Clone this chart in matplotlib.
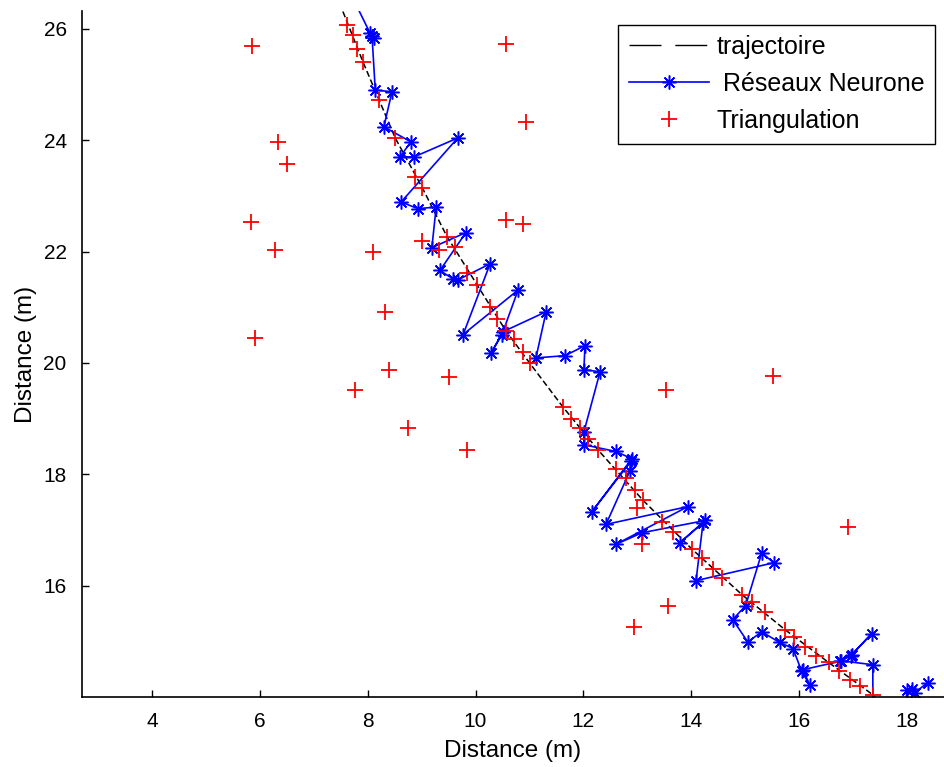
import matplotlib
matplotlib.use('Agg')
import matplotlib.pyplot as plt
from matplotlib.lines import Line2D

# trajectoire reelle
traj_x = [7.54, 7.91, 8.51, 9.01, 9.47, 10.03, 10.56, 11.01, 11.62, 12.27,
          13.10, 14.01, 14.94, 15.74, 16.55, 17.37, 17.46]
traj_y = [26.31, 25.41, 24.04, 23.15, 22.27, 21.40, 20.58, 19.99, 19.21, 18.44,
          17.54, 16.66, 15.84, 15.21, 14.62, 14.04, 13.95]

# estimation reseaux de neurones
rn_x = [7.76, 8.04, 8.12, 8.08, 8.14, 8.45, 8.30, 8.80, 8.60, 8.86,
        9.67, 8.62, 8.93, 9.27, 9.19, 9.82, 9.34, 9.58, 9.67, 10.27,
        9.77, 10.79, 10.49, 10.29, 10.51, 11.31, 11.12, 11.66, 12.03, 12.01,
        12.31, 12.01, 12.01, 12.60, 12.90, 12.16, 12.88, 12.86, 12.42, 13.94,
        12.60, 13.09, 14.26, 13.79, 14.22, 14.09, 15.53, 15.31, 15.01, 14.77,
        15.05, 15.31, 15.64, 15.89, 16.05, 16.20, 16.07, 16.76, 16.98, 17.35,
        16.96, 16.78, 17.37, 17.37, 17.96, 18.00, 18.09, 18.15, 18.39]
rn_y = [26.48, 25.93, 25.84, 25.87, 24.90, 24.87, 24.24, 23.97, 23.70, 23.70,
        24.04, 22.89, 22.77, 22.80, 22.07, 22.34, 21.66, 21.51, 21.49, 21.78,
        20.51, 21.31, 20.51, 20.18, 20.56, 20.92, 20.09, 20.13, 20.31, 19.88,
        19.84, 18.76, 18.53, 18.41, 18.28, 17.33, 18.23, 18.05, 17.10, 17.42,
        16.74, 16.95, 17.17, 16.77, 17.13, 16.09, 16.41, 16.59, 15.64, 15.39,
        14.99, 15.17, 14.98, 14.87, 14.46, 14.22, 14.49, 14.64, 14.76, 15.14,
        14.74, 14.65, 14.58, 13.41, 13.41, 14.12, 14.15, 14.08, 14.26]

# triangulation
tri_x = [7.62, 7.73, 7.80, 7.91, 8.21, 8.51, 8.88, 9.01, 9.01, 9.47,
         9.32, 9.62, 9.84, 10.03, 10.27, 10.40, 10.56, 10.71, 10.88, 11.01,
         11.62, 11.77, 11.94, 12.08, 12.27, 12.60, 12.79, 12.96, 13.10, 12.99,
         13.46, 13.66, 13.09, 14.01, 14.20, 14.40, 14.57, 14.94, 15.13, 15.37,
         15.74, 15.90, 16.11, 16.31, 16.55, 16.74, 16.94, 17.13, 17.37,
         5.85, 6.34, 6.50, 5.84, 6.28, 5.91, 7.76, 8.10, 8.32, 8.39,
         8.75, 9.51, 9.84, 10.56, 10.93, 10.56, 10.88, 13.53, 15.52, 13.57,
         12.94, 16.91]
tri_y = [26.07, 25.89, 25.64, 25.41, 24.73, 24.04, 23.34, 23.15, 22.19, 22.27,
         22.03, 22.09, 21.62, 21.40, 21.01, 20.78, 20.58, 20.43, 20.20, 20.00,
         19.21, 19.00, 18.84, 18.64, 18.44, 18.10, 17.94, 17.72, 17.54, 17.40,
         17.15, 16.97, 16.74, 16.66, 16.50, 16.29, 16.14, 15.84, 15.70, 15.52,
         15.21, 15.08, 14.90, 14.74, 14.62, 14.47, 14.31, 14.19, 14.04,
         25.69, 23.97, 23.58, 22.53, 22.03, 20.45, 19.52, 22.00, 20.92, 19.88,
         18.84, 19.75, 18.44, 25.73, 24.33, 22.57, 22.50, 19.52, 19.77, 15.64,
         15.26, 17.06]

x_ticks = [4, 6, 8, 10, 12, 14, 16, 18]
y_ticks = [16, 18, 20, 22, 24, 26]

plt.rcParams['font.family'] = ['Liberation Sans', 'DejaVu Sans']

fig = plt.figure(figsize=(9.44, 7.67), dpi=100)
ax = fig.add_axes([82 / 944, 70 / 767, 862 / 944, 686 / 767])

ax.plot(traj_x, traj_y, color='black', lw=1.1, dashes=(4, 2))
ax.plot(rn_x, rn_y, color='blue', lw=1.2, marker=(8, 2, 0), ms=10, mew=1.1)
ax.plot(tri_x, tri_y, ls='none', color='red', marker='+', ms=11, mew=1.3)

ax.set_xlim(2.70, 18.69)
ax.set_ylim(14.0, 26.32)
ax.set_xticks(x_ticks)
ax.set_yticks(y_ticks)
ax.tick_params(direction='in', length=5, width=1, labelsize=15, colors='black')
ax.tick_params(axis='x', pad=11)
ax.tick_params(axis='y', pad=11)
for s in ['top', 'right']:
    ax.spines[s].set_visible(False)
for s in ['left', 'bottom']:
    ax.spines[s].set_linewidth(1.2)

ax.set_xlabel('Distance (m)', fontsize=17.5, labelpad=6)
ax.set_ylabel('Distance (m)', fontsize=17.5, labelpad=5)

handles = [
    Line2D([], [], color='black', lw=1.0, dashes=(23, 10)),
    Line2D([], [], color='blue', lw=1.2, marker=(8, 2, 0), ms=10, mew=1.1),
    Line2D([], [], ls='none', color='red', marker='+', ms=11, mew=1.3),
]
labels = ['trajectoire', ' Réseaux Neurone', 'Triangulation']
leg = ax.legend(handles, labels, loc='upper right', bbox_to_anchor=(0.99, 0.98),
                borderaxespad=0, fontsize=18, handlelength=3.2, handletextpad=0.3,
                labelspacing=0.52, borderpad=0.42, fancybox=False, framealpha=1,
                edgecolor='black')
leg.get_frame().set_linewidth(1.0)

fig.savefig('out.png', dpi=100)
